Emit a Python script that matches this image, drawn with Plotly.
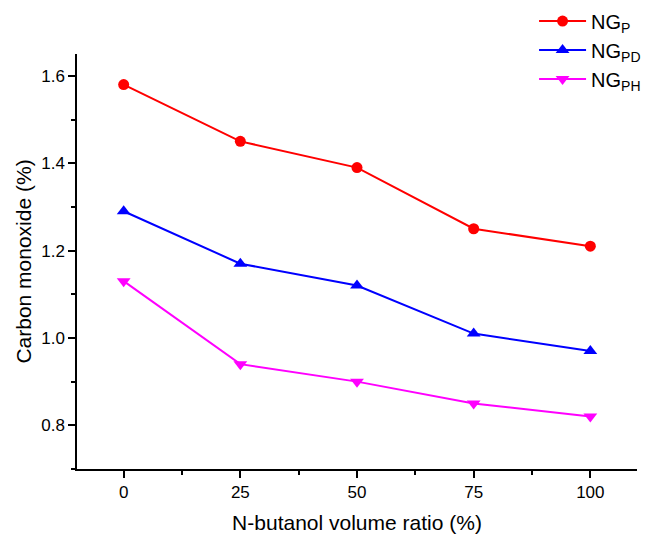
import plotly.graph_objects as go

ratios = [0, 25, 50, 75, 100]
ng_p = [1.58, 1.45, 1.39, 1.25, 1.21]
ng_pd = [1.29, 1.17, 1.12, 1.01, 0.97]
ng_ph = [1.13, 0.94, 0.90, 0.85, 0.82]
names = ["NG<sub>P</sub>", "NG<sub>PD</sub>", "NG<sub>PH</sub>"]
colors = ["#ff0000", "#0000ff", "#ff00ff"]
symbols = ["circle", "triangle-up", "triangle-down"]

fig = go.Figure()
for ys, nm, c, s in zip([ng_p, ng_pd, ng_ph], names, colors, symbols):
    fig.add_trace(go.Scatter(
        x=ratios, y=ys, name=nm, mode="lines+markers",
        line=dict(color=c, width=2),
        marker=dict(color=c, symbol=s, size=12 if s != "circle" else 11),
    ))

font = "Liberation Sans, Arial, sans-serif"
fig.update_layout(
    width=645, height=538,
    margin=dict(l=77, r=8, t=54, b=69, autoexpand=False),
    paper_bgcolor="white", plot_bgcolor="white",
    font=dict(family=font, color="black"),
    showlegend=True,
    legend=dict(xref="container", yref="container", x=0.828, y=0.997,
                xanchor="left", yanchor="top",
                font=dict(size=20, family=font), bgcolor="rgba(0,0,0,0)",
                tracegroupgap=0, itemwidth=47),
    xaxis=dict(
        range=[-10, 110], tickvals=[0, 25, 50, 75, 100],
        ticks="outside", ticklen=7, tickwidth=1.5, tickcolor="black",
        showline=True, linecolor="black", linewidth=1.5,
        showgrid=False, zeroline=False,
        tickfont=dict(size=17),
        minor=dict(ticks="outside", ticklen=4, tickwidth=1.5, tickcolor="black", dtick=12.5, tick0=0, showgrid=False),
        title=dict(text="N-butanol volume ratio (%)", font=dict(size=21), standoff=14),
    ),
    yaxis=dict(
        range=[0.7, 1.65], tickvals=[0.8, 1.0, 1.2, 1.4, 1.6], ticktext=["0.8", "1.0", "1.2", "1.4", "1.6"],
        ticks="outside", ticklen=7, tickwidth=1.5, tickcolor="black",
        showline=True, linecolor="black", linewidth=1.5,
        showgrid=False, zeroline=False,
        tickfont=dict(size=17),
        minor=dict(ticks="outside", ticklen=4, tickwidth=1.5, tickcolor="black", dtick=0.1, tick0=0.7, showgrid=False),
        title=dict(text="Carbon monoxide (%)", font=dict(size=21), standoff=4),
    ),
)
fig.write_html("out.html")
